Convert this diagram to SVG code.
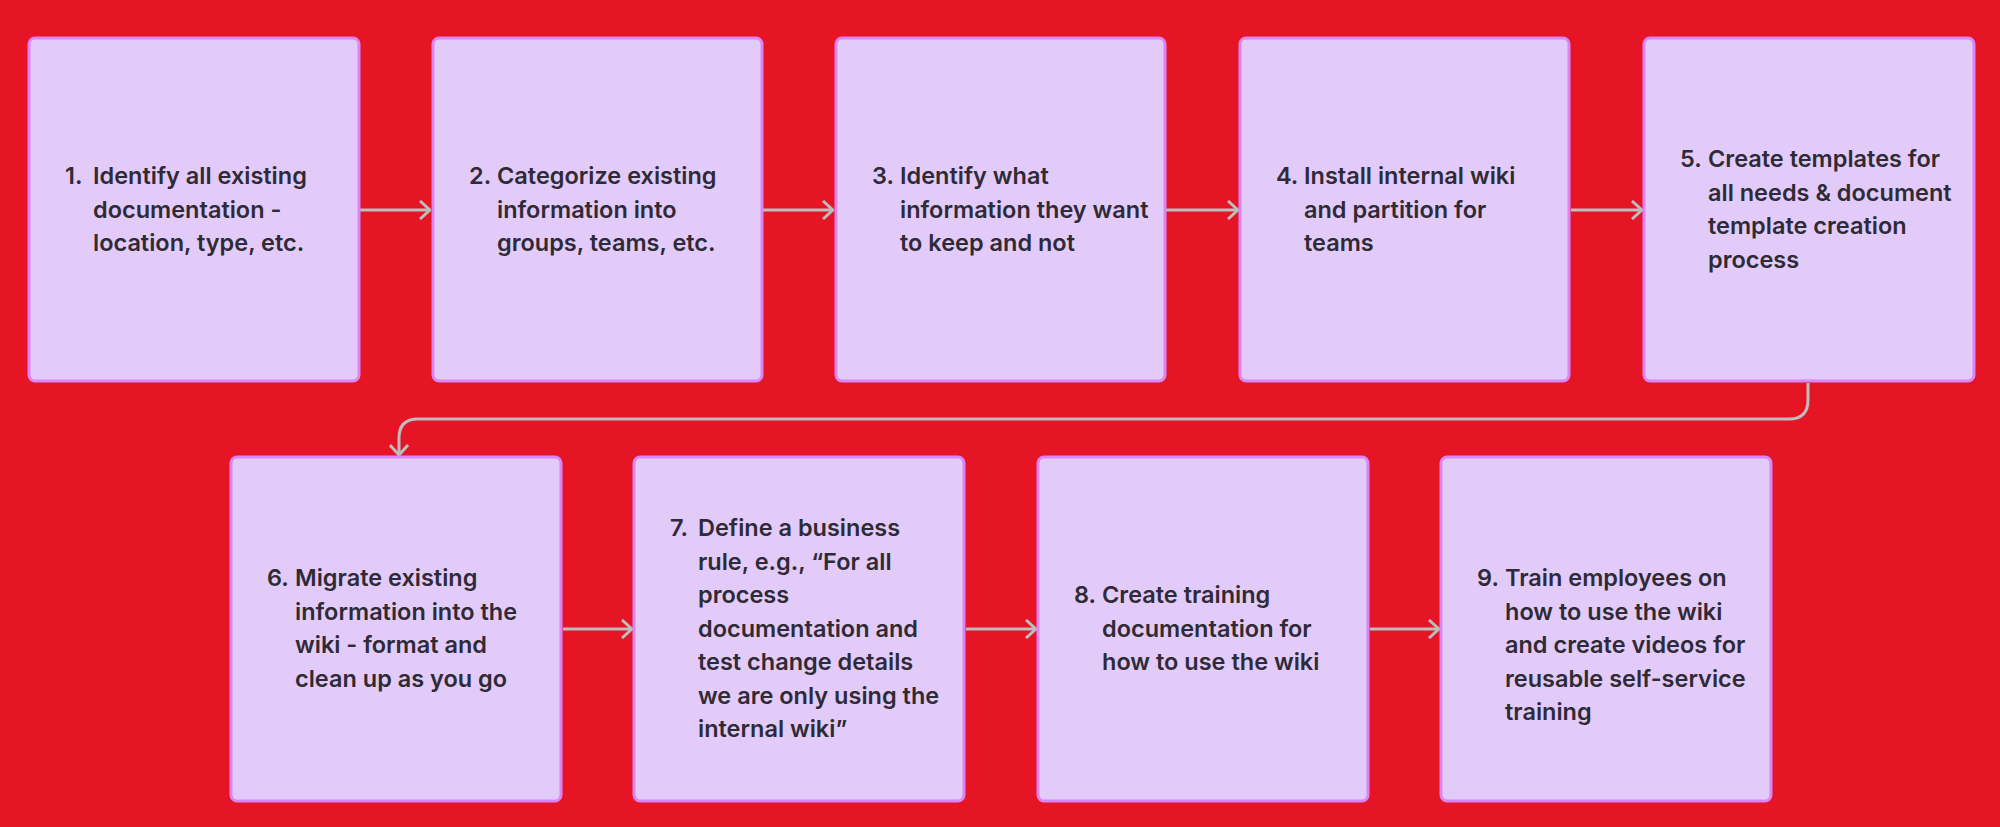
<svg xmlns="http://www.w3.org/2000/svg" width="2000" height="827" viewBox="0 0 2000 827">
<style>
.box{fill:#e3cbf9;stroke:#dc83f5;stroke-width:3}
.t{font-family:Inter,"Liberation Sans",sans-serif;font-weight:600;font-size:23.5px;fill:#2e2a36}
.c{fill:none;stroke:#bdbdbd;stroke-width:3}
</style>
<defs>
<marker id="a" viewBox="0 0 12 20" refX="11" refY="10" markerWidth="12" markerHeight="20" markerUnits="userSpaceOnUse" orient="auto"><path d="M1 1 L11 10 L1 19" fill="none" stroke="#bdbdbd" stroke-width="3"/></marker>
</defs>
<rect width="2000" height="827" fill="#e51526"/>
<g id="connectors">
<path class="c" marker-end="url(#a)" d="M360 210 H430"/>
<path class="c" marker-end="url(#a)" d="M763 210 H833"/>
<path class="c" marker-end="url(#a)" d="M1166 210 H1238"/>
<path class="c" marker-end="url(#a)" d="M1571 210 H1642"/>
<path class="c" marker-end="url(#a)" d="M1808 383 V400 Q1808 419 1789 419 H418 Q399 419 399 438 V455"/>
<path class="c" marker-end="url(#a)" d="M563 629 H632"/>
<path class="c" marker-end="url(#a)" d="M966 629 H1036"/>
<path class="c" marker-end="url(#a)" d="M1370 629 H1439"/>
</g>
<g id="n1"><rect class="box" x="29" y="38" width="330" height="343" rx="6"/><text class="t" y="184"><tspan x="65">1.</tspan><tspan x="93">Identify all existing</tspan><tspan x="93" dy="33.5">documentation -</tspan><tspan x="93" dy="33.5">location, type, etc.</tspan></text></g>
<g id="n2"><rect class="box" x="433" y="38" width="329" height="343" rx="6"/><text class="t" y="184"><tspan x="469">2.</tspan><tspan x="497">Categorize existing</tspan><tspan x="497" dy="33.5">information into</tspan><tspan x="497" dy="33.5">groups, teams, etc.</tspan></text></g>
<g id="n3"><rect class="box" x="836" y="38" width="329" height="343" rx="6"/><text class="t" y="184"><tspan x="872">3.</tspan><tspan x="900">Identify what</tspan><tspan x="900" dy="33.5">information they want</tspan><tspan x="900" dy="33.5">to keep and not</tspan></text></g>
<g id="n4"><rect class="box" x="1240" y="38" width="329" height="343" rx="6"/><text class="t" y="184"><tspan x="1276">4.</tspan><tspan x="1304">Install internal wiki</tspan><tspan x="1304" dy="33.5">and partition for</tspan><tspan x="1304" dy="33.5">teams</tspan></text></g>
<g id="n5"><rect class="box" x="1644" y="38" width="330" height="343" rx="6"/><text class="t" y="167"><tspan x="1680">5.</tspan><tspan x="1708">Create templates for</tspan><tspan x="1708" dy="33.5">all needs &amp; document</tspan><tspan x="1708" dy="33.5">template creation</tspan><tspan x="1708" dy="33.5">process</tspan></text></g>
<g id="n6"><rect class="box" x="231" y="457" width="330" height="344" rx="6"/><text class="t" y="586"><tspan x="267">6.</tspan><tspan x="295">Migrate existing</tspan><tspan x="295" dy="33.5">information into the</tspan><tspan x="295" dy="33.5">wiki - format and</tspan><tspan x="295" dy="33.5">clean up as you go</tspan></text></g>
<g id="n7"><rect class="box" x="634" y="457" width="330" height="344" rx="6"/><text class="t" y="536"><tspan x="670">7.</tspan><tspan x="698">Define a business</tspan><tspan x="698" dy="33.5">rule, e.g., “For all</tspan><tspan x="698" dy="33.5">process</tspan><tspan x="698" dy="33.5">documentation and</tspan><tspan x="698" dy="33.5">test change details</tspan><tspan x="698" dy="33.5">we are only using the</tspan><tspan x="698" dy="33.5">internal wiki”</tspan></text></g>
<g id="n8"><rect class="box" x="1038" y="457" width="330" height="344" rx="6"/><text class="t" y="603"><tspan x="1074">8.</tspan><tspan x="1102">Create training</tspan><tspan x="1102" dy="33.5">documentation for</tspan><tspan x="1102" dy="33.5">how to use the wiki</tspan></text></g>
<g id="n9"><rect class="box" x="1441" y="457" width="330" height="344" rx="6"/><text class="t" y="586"><tspan x="1477">9.</tspan><tspan x="1505">Train employees on</tspan><tspan x="1505" dy="33.5">how to use the wiki</tspan><tspan x="1505" dy="33.5">and create videos for</tspan><tspan x="1505" dy="33.5">reusable self-service</tspan><tspan x="1505" dy="33.5">training</tspan></text></g>
</svg>
